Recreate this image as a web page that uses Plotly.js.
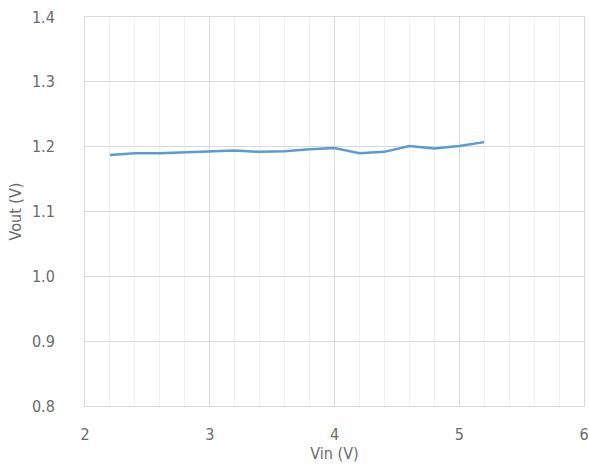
<!DOCTYPE html>
<html>
<head>
<meta charset="utf-8">
<script src="https://cdn.plot.ly/plotly-3.0.1.min.js"></script>
<style>
html,body{margin:0;padding:0;background:#fff;}
#chart{width:589px;height:475px;}
</style>
</head>
<body>
<div id="chart"></div>
<script>
const vin = [2.2, 2.4, 2.6, 2.8, 3.0, 3.2, 3.4, 3.6, 3.8, 4.0, 4.2, 4.4, 4.6, 4.8, 5.0, 5.2];
const vout = [1.187, 1.190, 1.190, 1.191, 1.193, 1.194, 1.192, 1.193, 1.196, 1.198, 1.190, 1.192, 1.201, 1.197, 1.201, 1.207];
const xTicks = [2, 3, 4, 5, 6];
const yTicks = [0.8, 0.9, 1.0, 1.1, 1.2, 1.3, 1.4];
const yTickText = ['0.8', '0.9', '1.0', '1.1', '1.2', '1.3', '1.4'];

const font = {family: '"DejaVu Sans Condensed", "Roboto", sans-serif', size: 16, color: '#6b6b6b'};

Plotly.newPlot('chart', [{
  x: vin, y: vout, type: 'scatter', mode: 'lines',
  line: {color: '#5B9BD5', width: 2.5}
}], {
  width: 589, height: 475,
  margin: {l: 85, r: 5, t: 17, b: 69},
  paper_bgcolor: '#fff', plot_bgcolor: '#fff',
  showlegend: false,
  font: font,
  xaxis: {
    range: [2, 6], tickvals: xTicks, ticktext: xTicks.map(String),
    showgrid: true, gridcolor: '#d9d9d9', gridwidth: 1,
    minor: {dtick: 0.2, showgrid: true, gridcolor: '#f0f0f0', gridwidth: 1},
    showline: true, linecolor: '#d9d9d9', linewidth: 1, mirror: true,
    zeroline: false, ticks: 'outside', ticklen: 14, tickcolor: 'rgba(0,0,0,0)',
    title: {text: 'Vin (V)', font: font, standoff: 4},
    tickfont: font
  },
  yaxis: {
    range: [0.8, 1.4], tickvals: yTicks, ticktext: yTickText,
    showgrid: true, gridcolor: '#d9d9d9', gridwidth: 1,
    showline: true, linecolor: '#d9d9d9', linewidth: 1, mirror: true,
    zeroline: false, ticks: 'outside', ticklen: 26, tickcolor: 'rgba(0,0,0,0)',
    title: {text: 'Vout (V)', font: font, standoff: 6},
    tickfont: font
  }
}, {displayModeBar: false, staticPlot: true});
</script>
</body>
</html>
